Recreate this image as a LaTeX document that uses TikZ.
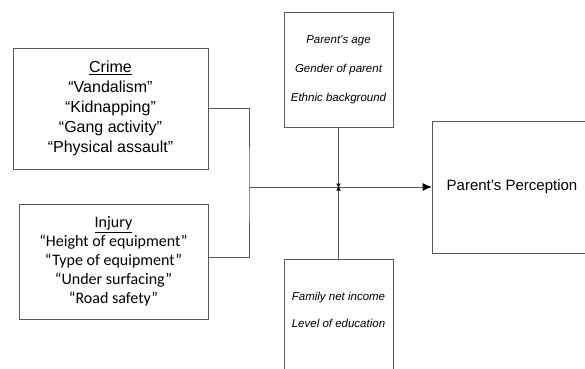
\documentclass[tikz,border=0pt]{standalone}
\usepackage{fontspec}
\setmainfont{Liberation Sans}
\newfontfamily\calibrifont{Carlito}
\usetikzlibrary{arrows.meta, positioning}

\begin{document}
\begin{tikzpicture}[x=1pt, y=-1pt, >=Latex,
    boxline/.style={draw=black!65, line width=0.7pt},
    riskbox/.style={boxline, align=center, inner sep=0pt, font=\fontsize{16}{20}\selectfont},
    factorbox/.style={boxline, align=center, inner sep=0pt, font=\fontsize{11.5}{29}\selectfont\itshape},
    link/.style={draw=black!65, line width=0.7pt},
    smalltip/.style={-{Latex[length=5pt, width=4.5pt, black]}}]
    \useasboundingbox (0,0) rectangle (585,368);

    % --- Risk boxes on the left ---
    \node[riskbox, minimum width=195pt, minimum height=121pt] (crime) at (110.5,108.5)
      {\underline{Crime}\\“Vandalism”\\“Kidnapping”\\“Gang activity”\\“Physical assault”};
    \node[riskbox, minimum width=189pt, minimum height=115pt,
      font=\calibrifont\fontsize{16}{19}\selectfont] (injury) at (113.5,261.5)
      {\underline{Injury}\\“Height of equipment”\\“Type of equipment”\\“Under surfacing”\\“Road safety”};

    % --- Parent factors ---
    \node[factorbox, minimum width=109pt, minimum height=115pt] (parent) at (338.5,69.5)
      {Parent’s age\\Gender of parent\\Ethnic background};
    \node[factorbox, minimum width=109pt, minimum height=115pt,
      font=\fontsize{11.5}{27}\selectfont\itshape] (family) at (338.5,316.5)
      {Family net income\\Level of education\\[-13pt]\mbox{}};

    % --- Outcome ---
    \node[boxline, minimum width=160pt, minimum height=132pt,
      font=\fontsize{15}{18}\selectfont] (percep) at (512,187) {Parent’s Perception};

    % --- Junctions ---
    \coordinate (bend) at (249,187);
    \coordinate (meet) at (338.5,187);

    % --- Connectors ---
    \draw[link] (crime.east) -| (bend) |- ([yshift=4.5pt]injury.east);
    \draw[link, -{Latex[length=9pt, width=8pt, black]}] (bend) -- (percep.west);
    \draw[link, smalltip] (parent.south) -- ([yshift=-1.5pt]meet);
    \draw[link, smalltip] (family.north) -- ([yshift=1.5pt]meet);
\end{tikzpicture}
\end{document}
